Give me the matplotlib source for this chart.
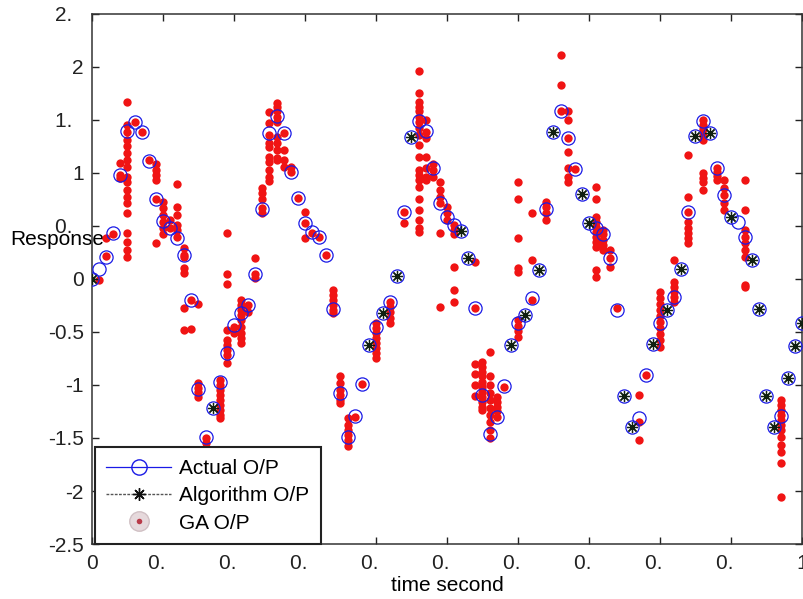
import numpy as np
import matplotlib.pyplot as plt
from matplotlib.lines import Line2D
from matplotlib.legend_handler import HandlerTuple

plt.switch_backend('Agg')
plt.rcParams['font.family'] = ['Liberation Sans', 'DejaVu Sans']
plt.rcParams['font.size'] = 15

# sample grid of the actual signal (0.01 s steps)
time = np.round(np.arange(0, 101) * 0.01, 2)

# actual output, read at every sample
actual = [
    0.00, 0.09, 0.21, 0.43, 0.98, 1.40, 1.48, 1.39, 1.11, 0.75,
    0.55, 0.48, 0.39, 0.23, -0.20, -1.04, -1.49, -1.22, -0.97, -0.70,
    -0.43, -0.32, -0.25, 0.05, 0.66, 1.38, 1.54, 1.38, 1.01, 0.76,
    0.53, 0.44, 0.40, 0.23, -0.28, -1.08, -1.49, -1.29, -0.99, -0.62,
    -0.45, -0.32, -0.22, 0.03, 0.63, 1.34, 1.49, 1.40, 1.05, 0.72,
    0.58, 0.51, 0.45, 0.20, -0.27, -1.09, -1.46, -1.30, -1.01, -0.62,
    -0.42, -0.34, -0.18, 0.08, 0.66, 1.39, 1.58, 1.33, 1.04, 0.80,
    0.53, 0.48, 0.42, 0.20, -0.29, -1.10, -1.40, -1.31, -0.91, -0.61,
    -0.42, -0.29, -0.17, 0.09, 0.63, 1.35, 1.49, 1.38, 1.05, 0.79,
    0.58, 0.54, 0.40, 0.18, -0.28, -1.10, -1.40, -1.29, -0.93, -0.63,
    -0.42,
]

# samples where the algorithm output is marked
algo_idx = [0, 17, 39, 41, 43, 45, 52, 53, 59, 61, 63, 65, 69, 70, 75, 76,
            79, 81, 83, 85, 87, 90, 93, 94, 95, 96, 98, 99, 100]

# GA output: time of each column and the responses found there
ga_time = [0.01, 0.02, 0.03, 0.04, 0.05, 0.06, 0.07, 0.08, 0.09, 0.10,
           0.11, 0.12, 0.13, 0.14, 0.15, 0.16, 0.18, 0.19, 0.20, 0.21,
           0.22, 0.23, 0.24, 0.25, 0.26, 0.27, 0.28, 0.29, 0.30, 0.31,
           0.32, 0.33, 0.34, 0.35, 0.36, 0.37, 0.38, 0.40, 0.42, 0.44,
           0.46, 0.47, 0.48, 0.49, 0.50, 0.51, 0.54, 0.55, 0.56, 0.57,
           0.58, 0.60, 0.62, 0.64, 0.66, 0.67, 0.68, 0.71, 0.72, 0.73,
           0.74, 0.77, 0.78, 0.80, 0.82, 0.84, 0.86, 0.88, 0.89, 0.92,
           0.97]
ga_resp = [
    [-0.01],
    [0.22, 0.39],
    [0.42],
    [0.98, 1.09, 0.95],
    [1.67, 1.45, 1.39, 1.31, 1.25, 1.19, 1.12, 1.06, 0.96, 0.91, 0.84, 0.77,
     0.72, 0.62, 0.43, 0.35, 0.27, 0.21],
    [1.48],
    [1.39],
    [1.12],
    [1.08, 1.03, 0.98, 0.93, 0.75, 0.34],
    [0.73, 0.67, 0.60, 0.54, 0.48, 0.42],
    [0.56, 0.48],
    [0.90, 0.68, 0.60, 0.51, 0.46, 0.40],
    [0.29, 0.23, 0.21, 0.10, 0.06, -0.27, -0.48],
    [-0.20, -0.47],
    [-0.24, -0.98, -1.03, -1.07, -1.11],
    [-1.50, -1.55],
    [-0.95, -1.00, -1.05, -1.09, -1.14, -1.19, -1.24, -1.28, -1.31],
    [0.43, 0.05, -0.05, -0.48, -0.58, -0.62, -0.67, -0.72, -0.79],
    [-0.45, -0.51],
    [-0.20, -0.25, -0.29, -0.34, -0.39, -0.45, -0.51, -0.56, -0.60],
    [-0.25, -0.31],
    [0.20, 0.05, 0.01],
    [0.86, 0.81, 0.75, 0.67, 0.62],
    [1.57, 1.47, 1.36, 1.28, 1.24, 1.15, 1.10, 1.03, 0.96, 0.92],
    [1.66, 1.62, 1.58, 1.53, 1.48, 1.34, 1.28, 1.22, 1.14, 1.12],
    [1.38, 1.22, 1.12, 1.06],
    [1.06, 1.01],
    [0.76],
    [0.63, 0.53, 0.39],
    [0.43],
    [0.40],
    [0.23],
    [-0.10, -0.15, -0.20, -0.25, -0.29, -0.32],
    [-0.92, -0.98, -1.05, -1.09, -1.14, -1.17],
    [-1.31, -1.38, -1.42, -1.47, -1.52, -1.58],
    [-1.30],
    [-0.99],
    [-0.42, -0.46, -0.51, -0.56, -0.60, -0.65, -0.70, -0.75],
    [-0.22, -0.26, -0.31, -0.37, -0.42],
    [0.63, 0.53],
    [1.96, 1.75, 1.67, 1.62, 1.58, 1.53, 1.48, 1.42, 1.36, 1.26, 1.15, 1.03,
     0.98, 0.93, 0.87, 0.75, 0.65, 0.56, 0.48, 0.44],
    [1.50, 1.39, 1.33, 1.15, 1.05, 0.96, 0.93],
    [1.08, 1.03, 0.96],
    [0.91, 0.84, 0.77, 0.72, 0.43, -0.26],
    [0.68, 0.62, 0.56],
    [0.51, 0.46, 0.42, 0.11, -0.10, -0.22],
    [0.16, -0.27, -0.80, -0.90, -1.00, -1.10],
    [-0.78, -0.83, -0.88, -0.92, -0.97, -1.02, -1.07, -1.11, -1.16, -1.21, -1.24],
    [-0.69, -0.92, -1.00, -1.08, -1.14, -1.22, -1.28, -1.35, -1.42, -1.50],
    [-1.11, -1.16, -1.21, -1.25, -1.30],
    [-1.02],
    [0.91, 0.75, 0.39, 0.10, 0.07, -0.39, -0.44, -0.49, -0.55],
    [0.62, 0.18, -0.20],
    [0.73, 0.68, 0.62, 0.56],
    [2.11, 1.83, 1.58],
    [1.58, 1.50, 1.33, 1.20, 1.05, 0.96, 0.91],
    [1.04],
    [0.87, 0.75, 0.58, 0.54, 0.49, 0.44, 0.40, 0.35, 0.30, 0.08, 0.02],
    [0.46, 0.42, 0.37, 0.32, 0.27],
    [0.27, 0.20, 0.11],
    [-0.27],
    [-1.09, -1.35, -1.52],
    [-0.91],
    [-0.12, -0.18, -0.24, -0.29, -0.35, -0.41, -0.46, -0.52, -0.58, -0.64],
    [0.18, -0.03, -0.08, -0.12, -0.17, -0.22],
    [1.17, 0.77, 0.63, 0.54, 0.48, 0.43, 0.39, 0.34],
    [1.50, 1.45, 1.41, 1.36, 1.31, 1.00, 0.95, 0.91, 0.84],
    [1.05, 1.01, 0.97, 0.93],
    [0.93, 0.86, 0.79, 0.72, 0.65],
    [0.93, 0.65, 0.46, 0.40, 0.34, 0.27, 0.21, -0.06, -0.08],
    [-1.14, -1.19, -1.24, -1.28, -1.33, -1.38, -1.42, -1.49, -1.57, -1.63,
     -1.74, -2.06],
]

# tick labels as they appear (truncated), \u2007 keeps the missing digit's width
x_ticks = [0, 0.1, 0.2, 0.3, 0.4, 0.5, 0.6, 0.7, 0.8, 0.9, 1.0]
x_labels = ['0'] + ['0.\u2007'] * 9 + ['1']
y_ticks = [2.5, 2, 1.5, 1, 0.5, 0, -0.5, -1, -1.5, -2, -2.5]
y_labels = ['2.\u2007', '2', '1.\u2007', '1', '0.\u2007', '0',
            '-0.5', '-1', '-1.5', '-2', '-2.5']

BLUE = '#1a1ae6'
RED = '#f01414'

fig = plt.figure(figsize=(8.04, 5.99), dpi=100)
ax = fig.add_axes([0.1144, 0.0918, 0.8831, 0.885])

ga_x = [t for t, vals in zip(ga_time, ga_resp) for _ in vals]
ga_y = [v for vals in ga_resp for v in vals]
ax.plot(ga_x, ga_y, 'o', color=RED, markersize=6, markeredgewidth=0, zorder=2)

ax.plot(time, actual, 'o', markerfacecolor='none', markeredgecolor=BLUE,
        markersize=9.5, markeredgewidth=0.9, zorder=3)

algo_t = [time[i] for i in algo_idx]
algo_v = [actual[i] for i in algo_idx]
ax.plot(algo_t, algo_v, linestyle='none', marker=(8, 2, 0), color='#102010',
        markersize=8, markeredgewidth=0.9, zorder=4)

ax.set_xlim(0, 1)
ax.set_ylim(-2.5, 2.5)
ax.set_xticks(x_ticks)
ax.set_xticklabels(x_labels)
ax.set_yticks(y_ticks)
ax.set_yticklabels(y_labels)
ax.tick_params(direction='in', length=5, width=1, top=True, right=True,
               colors='#222222', labelsize=15)
ax.tick_params(axis='x', pad=7)
ax.tick_params(axis='y', pad=6)
for s in ax.spines.values():
    s.set_color('#333333')
    s.set_linewidth(1.1)

ax.set_xlabel('time second', fontsize=15, labelpad=2)
ax.set_ylabel('Response', fontsize=15, rotation=0, ha='center', va='center')
ax.yaxis.set_label_coords(-0.049, 0.575)

h_actual = Line2D([], [], color=BLUE, linewidth=0.9, marker='o',
                  markerfacecolor='none', markeredgecolor=BLUE, markersize=11)
h_algo = Line2D([], [], color='#555555', linestyle='--', dashes=(2, 1),
                linewidth=1, marker=(8, 2, 0), markeredgecolor='#101010',
                markersize=9)
h_ga_bg = Line2D([], [], linestyle='none', marker='o', markersize=14,
                 markerfacecolor='#e6d9dc', markeredgecolor='#d0c0c4')
h_ga_dot = Line2D([], [], linestyle='none', marker='o', markersize=4,
                  markerfacecolor='#b83a48', markeredgewidth=0)
leg = ax.legend([h_actual, h_algo, (h_ga_bg, h_ga_dot)],
                ['Actual O/P', 'Algorithm O/P', 'GA O/P'],
                handler_map={tuple: HandlerTuple(ndivide=1)},
                loc='lower left', bbox_to_anchor=(0.004, 0.0),
                borderaxespad=0, fancybox=False, framealpha=1,
                edgecolor='#222222', fontsize=15, handlelength=3.1,
                handletextpad=0.4, labelspacing=0.4, borderpad=0.55)
leg.get_frame().set_linewidth(1.5)
leg.set_zorder(5)

fig.savefig('out.png', dpi=100)
